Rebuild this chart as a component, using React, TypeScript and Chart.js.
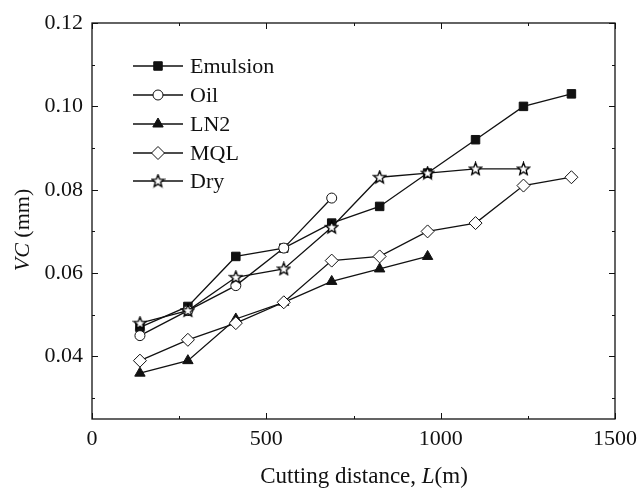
import React, { useEffect, useRef } from "react";
import { Chart, registerables } from "chart.js";
import { drawPoint } from "chart.js/helpers";

Chart.register(...registerables);

const distances = [137.5, 275, 412.5, 550, 687.5, 825, 962.5, 1100, 1237.5, 1375];
const emulsion = [0.047, 0.052, 0.064, 0.066, 0.072, 0.076, 0.084, 0.092, 0.1, 0.103];
const oil = [0.045, 0.051, 0.057, 0.066, 0.078];
const ln2 = [0.036, 0.039, 0.049, 0.053, 0.058, 0.061, 0.064];
const mql = [0.039, 0.044, 0.048, 0.053, 0.063, 0.064, 0.07, 0.072, 0.081, 0.083];
const dry = [0.048, 0.051, 0.059, 0.061, 0.071, 0.083, 0.084, 0.085, 0.085];
const seriesNames = ["Emulsion", "Oil", "LN2", "MQL", "Dry"];
const xTicks = [0, 500, 1000, 1500];
const yTicks = [0.04, 0.06, 0.08, 0.1, 0.12];

const FONT = "'Liberation Serif', 'Times New Roman', serif";

function makeStar(): HTMLCanvasElement {
  const c = document.createElement("canvas");
  c.width = 15;
  c.height = 15;
  const ctx = c.getContext("2d")!;
  const cx = 7.5, cy = 7.8, ro = 6.5, ri = 2.8;
  ctx.beginPath();
  for (let i = 0; i < 10; i++) {
    const r = i % 2 === 0 ? ro : ri;
    const a = -Math.PI / 2 + (i * Math.PI) / 5;
    const x = cx + r * Math.cos(a);
    const y = cy + r * Math.sin(a);
    if (i === 0) ctx.moveTo(x, y);
    else ctx.lineTo(x, y);
  }
  ctx.closePath();
  ctx.fillStyle = "#fff";
  ctx.fill();
  ctx.strokeStyle = "#000";
  ctx.lineWidth = 1.3;
  ctx.stroke();
  return c;
}

function pts(vals: number[]) {
  return vals.map((v, i) => ({ x: distances[i], y: v }));
}

export default function App() {
  const ref = useRef<HTMLCanvasElement>(null);
  useEffect(() => {
    document.body.style.margin = "0";
    const star = makeStar();
    const styles: any[] = [
      { pointStyle: "rect", pointRadius: 6, pointBackgroundColor: "#111", order: 5, data: emulsion },
      { pointStyle: "circle", pointRadius: 5, pointBackgroundColor: "#fff", order: 4, data: oil },
      { pointStyle: "triangle", pointRadius: 6, pointBackgroundColor: "#111", order: 3, data: ln2 },
      { pointStyle: "rectRot", pointRadius: 6.5, pointBackgroundColor: "#fff", order: 2, data: mql },
      { pointStyle: star, pointRadius: 7, pointBackgroundColor: "#fff", order: 1, data: dry },
    ];
    const datasets = styles.map((s, i) => ({
      label: seriesNames[i],
      data: pts(s.data),
      borderColor: "#111",
      borderWidth: 1.3,
      pointBorderColor: "#111",
      pointBorderWidth: 1,
      pointBackgroundColor: s.pointBackgroundColor,
      pointStyle: s.pointStyle,
      pointRadius: s.pointRadius,
      order: s.order,
      tension: 0,
    }));

    const framePlugin = {
      id: "frame",
      afterDraw(chart: any) {
        const { ctx, chartArea: a, scales } = chart;
        const xs = scales.x, ys = scales.y;
        ctx.save();
        ctx.strokeStyle = "#111";
        ctx.lineWidth = 1.3;
        ctx.strokeRect(a.left, a.top, a.right - a.left, a.bottom - a.top);
        ctx.lineWidth = 1;
        ctx.beginPath();
        for (let v = 0; v <= 1500; v += 250) {
          const px = Math.round(xs.getPixelForValue(v)) + 0.5;
          const len = v % 500 === 0 ? 6 : 3;
          ctx.moveTo(px, a.bottom);
          ctx.lineTo(px, a.bottom - len);
          ctx.moveTo(px, a.top);
          ctx.lineTo(px, a.top + len);
        }
        for (let k = 3; k <= 12; k++) {
          const v = k / 100;
          const py = Math.round(ys.getPixelForValue(v)) + 0.5;
          const len = k % 2 === 0 ? 6 : 3;
          ctx.moveTo(a.left, py);
          ctx.lineTo(a.left + len, py);
          ctx.moveTo(a.right, py);
          ctx.lineTo(a.right - len, py);
        }
        ctx.stroke();

        // legend
        const rows = [66, 95, 124, 153, 181];
        ctx.font = `22px ${FONT}`;
        ctx.textBaseline = "middle";
        ctx.fillStyle = "#111";
        datasets.forEach((d, i) => {
          const y = rows[i];
          ctx.strokeStyle = "#111";
          ctx.lineWidth = 1.3;
          ctx.beginPath();
          ctx.moveTo(133, y);
          ctx.lineTo(183, y);
          ctx.stroke();
          ctx.fillStyle = d.pointBackgroundColor;
          ctx.strokeStyle = "#111";
          ctx.lineWidth = 1;
          drawPoint(ctx, { pointStyle: d.pointStyle, radius: d.pointRadius, rotation: 0, borderWidth: 1 } as any, 158, y);
          ctx.fillStyle = "#111";
          ctx.fillText(d.label, 190, y + 1);
        });

        // y title
        ctx.save();
        ctx.translate(23, 230);
        ctx.rotate(-Math.PI / 2);
        ctx.textBaseline = "middle";
        ctx.textAlign = "left";
        const it = `italic 22px ${FONT}`;
        const nm = `22px ${FONT}`;
        ctx.font = it;
        const w1 = ctx.measureText("VC").width;
        ctx.font = nm;
        const w2 = ctx.measureText(" (mm)").width;
        let sx = -(w1 + w2) / 2;
        ctx.font = it;
        ctx.fillText("VC", sx, 0);
        ctx.font = nm;
        ctx.fillText(" (mm)", sx + w1, 0);
        ctx.restore();

        // x title
        ctx.textBaseline = "middle";
        ctx.textAlign = "left";
        const it2 = `italic 23px ${FONT}`;
        const nm2 = `23px ${FONT}`;
        const parts: [string, string][] = [["Cutting distance, ", nm2], ["L", it2], ["(m)", nm2]];
        let total = 0;
        parts.forEach(([t, f]) => { ctx.font = f; total += ctx.measureText(t).width; });
        let x = 364 - total / 2;
        parts.forEach(([t, f]) => {
          ctx.font = f;
          ctx.fillText(t, x, 477);
          x += ctx.measureText(t).width;
        });
        ctx.restore();
      },
    };

    const chart = new Chart(ref.current!, {
      type: "line",
      data: { datasets },
      options: {
        animation: false,
        responsive: false,
        layout: { padding: { left: 0, right: 25, top: 23, bottom: 0 } },
        plugins: { legend: { display: false }, tooltip: { enabled: false } },
        scales: {
          x: {
            type: "linear",
            min: 0,
            max: 1500,
            grid: { display: false, drawTicks: false },
            border: { display: false },
            afterBuildTicks: (s: any) => { s.ticks = xTicks.map((v) => ({ value: v })); },
            afterFit: (s: any) => { s.height = 69; },
            ticks: { color: "#111", font: { family: FONT, size: 22 }, padding: 7, maxRotation: 0, callback: (v: any) => String(v) },
          },
          y: {
            type: "linear",
            min: 0.025,
            max: 0.12,
            grid: { display: false, drawTicks: false },
            border: { display: false },
            afterBuildTicks: (s: any) => { s.ticks = yTicks.map((v) => ({ value: v })); },
            afterFit: (s: any) => { s.width = 92; },
            ticks: { color: "#111", font: { family: FONT, size: 22 }, padding: 9, callback: (v: any) => Number(v).toFixed(2) },
          },
        },
      },
      plugins: [framePlugin],
    } as any);
    return () => chart.destroy();
  }, []);
  return (
    <div style={{ position: "fixed", left: 0, top: 0, width: 644, height: 488, background: "#fff" }}>
      <canvas ref={ref} width={644} height={488} />
    </div>
  );
}
